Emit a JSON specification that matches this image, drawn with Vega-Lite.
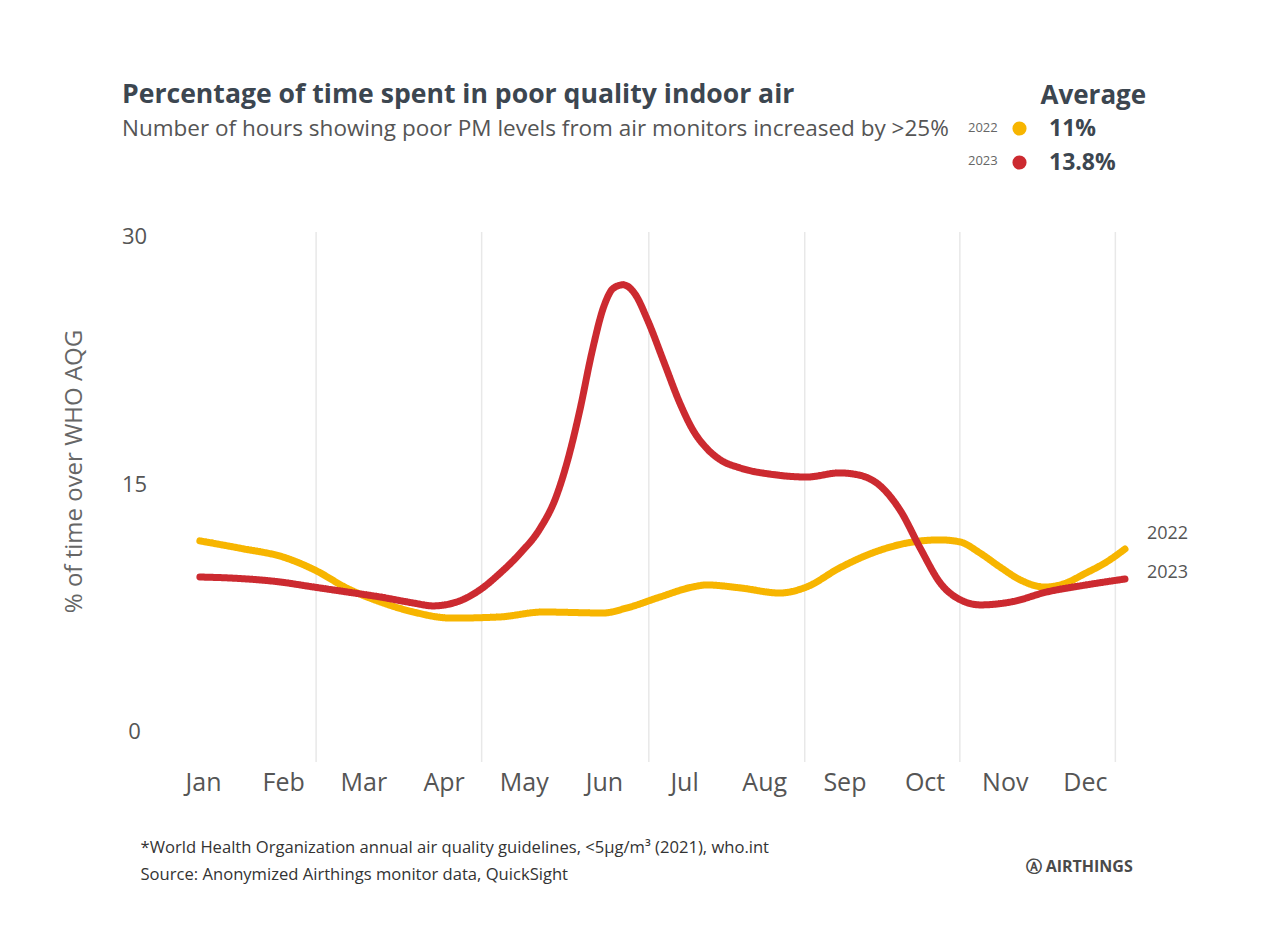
{
  "$schema": "https://vega.github.io/schema/vega-lite/v6.json",
  "width": 962,
  "height": 530,
  "autosize": {"type": "none"},
  "padding": {"left": 171, "top": 232, "right": 139, "bottom": 189},
  "background": "white",
  "config": {
    "font": "Open Sans",
    "view": {"stroke": null},
    "axis": {"labelFont": "Open Sans", "titleFont": "Open Sans"},
    "legend": {"labelFont": "Open Sans", "titleFont": "Open Sans"}
  },
  "title": {
    "text": "Percentage of time spent in poor quality indoor air",
    "subtitle": "Number of hours showing poor PM levels from air monitors increased by >25%",
    "anchor": "start",
    "frame": "group",
    "dx": -49,
    "offset": -58,
    "font": "Open Sans",
    "fontSize": 26.6,
    "fontWeight": "bold",
    "color": "#3c4650",
    "subtitleFont": "Open Sans",
    "subtitleFontSize": 22.5,
    "subtitleColor": "#555555",
    "subtitlePadding": 9
  },
  "datasets": {
    "grid": [
      {"month": 2.41}, {"month": 4.475}, {"month": 6.56}, {"month": 8.505}, {"month": 10.44}, {"month": 12.38}
    ],
    "series": [
      {"year": "2022", "month": 0.96, "value": 11.58},
      {"year": "2022", "month": 1.5, "value": 11.1},
      {"year": "2022", "month": 2.0, "value": 10.6},
      {"year": "2022", "month": 2.4, "value": 9.8},
      {"year": "2022", "month": 2.8, "value": 8.7},
      {"year": "2022", "month": 3.2, "value": 7.9},
      {"year": "2022", "month": 3.6, "value": 7.3},
      {"year": "2022", "month": 4.1, "value": 6.9},
      {"year": "2022", "month": 4.7, "value": 6.97},
      {"year": "2022", "month": 5.24, "value": 7.27},
      {"year": "2022", "month": 5.99, "value": 7.21},
      {"year": "2022", "month": 6.29, "value": 7.52},
      {"year": "2022", "month": 6.7, "value": 8.18},
      {"year": "2022", "month": 7.11, "value": 8.79},
      {"year": "2022", "month": 7.28, "value": 8.91},
      {"year": "2022", "month": 7.7, "value": 8.73},
      {"year": "2022", "month": 8.19, "value": 8.42},
      {"year": "2022", "month": 8.53, "value": 8.79},
      {"year": "2022", "month": 8.94, "value": 9.94},
      {"year": "2022", "month": 9.35, "value": 10.85},
      {"year": "2022", "month": 9.78, "value": 11.45},
      {"year": "2022", "month": 10.19, "value": 11.64},
      {"year": "2022", "month": 10.44, "value": 11.52},
      {"year": "2022", "month": 10.69, "value": 10.85},
      {"year": "2022", "month": 10.94, "value": 10.0},
      {"year": "2022", "month": 11.2, "value": 9.2},
      {"year": "2022", "month": 11.5, "value": 8.78},
      {"year": "2022", "month": 11.75, "value": 9.0},
      {"year": "2022", "month": 12.0, "value": 9.6},
      {"year": "2022", "month": 12.27, "value": 10.3},
      {"year": "2022", "month": 12.5, "value": 11.09},
      {"year": "2023", "month": 0.96, "value": 9.39},
      {"year": "2023", "month": 1.34, "value": 9.33},
      {"year": "2023", "month": 1.96, "value": 9.09},
      {"year": "2023", "month": 2.37, "value": 8.79},
      {"year": "2023", "month": 2.8, "value": 8.48},
      {"year": "2023", "month": 3.21, "value": 8.18},
      {"year": "2023", "month": 3.62, "value": 7.82},
      {"year": "2023", "month": 3.87, "value": 7.64},
      {"year": "2023", "month": 4.2, "value": 7.94},
      {"year": "2023", "month": 4.45, "value": 8.6},
      {"year": "2023", "month": 4.7, "value": 9.6},
      {"year": "2023", "month": 4.95, "value": 10.8},
      {"year": "2023", "month": 5.2, "value": 12.3},
      {"year": "2023", "month": 5.4, "value": 14.2},
      {"year": "2023", "month": 5.55, "value": 16.5},
      {"year": "2023", "month": 5.7, "value": 19.5},
      {"year": "2023", "month": 5.85, "value": 23.0},
      {"year": "2023", "month": 6.0, "value": 25.8},
      {"year": "2023", "month": 6.12, "value": 26.9},
      {"year": "2023", "month": 6.24, "value": 27.1},
      {"year": "2023", "month": 6.38, "value": 26.6},
      {"year": "2023", "month": 6.55, "value": 24.9},
      {"year": "2023", "month": 6.75, "value": 22.4},
      {"year": "2023", "month": 6.95, "value": 19.9},
      {"year": "2023", "month": 7.11, "value": 18.3},
      {"year": "2023", "month": 7.28, "value": 17.2},
      {"year": "2023", "month": 7.45, "value": 16.5},
      {"year": "2023", "month": 7.7, "value": 16.0},
      {"year": "2023", "month": 8.11, "value": 15.6},
      {"year": "2023", "month": 8.53, "value": 15.45},
      {"year": "2023", "month": 8.94, "value": 15.7},
      {"year": "2023", "month": 9.2, "value": 15.55},
      {"year": "2023", "month": 9.45, "value": 14.9},
      {"year": "2023", "month": 9.7, "value": 13.4},
      {"year": "2023", "month": 9.95, "value": 11.1},
      {"year": "2023", "month": 10.2, "value": 9.0},
      {"year": "2023", "month": 10.45, "value": 8.0},
      {"year": "2023", "month": 10.7, "value": 7.7},
      {"year": "2023", "month": 11.1, "value": 7.9},
      {"year": "2023", "month": 11.52, "value": 8.48},
      {"year": "2023", "month": 11.94, "value": 8.85},
      {"year": "2023", "month": 12.5, "value": 9.27}
    ]
  },
  "layer": [
    {
      "data": {"name": "grid"},
      "mark": {"type": "rule", "color": "#e8e8e8", "strokeWidth": 1.5},
      "encoding": {
        "x": {
          "field": "month",
          "type": "quantitative",
          "scale": {"domain": [0.6, 12.6], "nice": false, "zero": false},
          "axis": {
            "orient": "bottom",
            "values": [1, 2, 3, 4, 5, 6, 7, 8, 9, 10, 11, 12],
            "labelExpr": "['Jan','Feb','Mar','Apr','May','Jun','Jul','Aug','Sep','Oct','Nov','Dec'][datum.value - 1]",
            "labelFontSize": 25,
            "labelColor": "#555555",
            "labelPadding": 8,
            "labelFlush": false,
            "labelOverlap": false,
            "domain": false,
            "ticks": false,
            "tickSize": 0,
            "grid": false,
            "title": [
              "*World Health Organization annual air quality guidelines, <5µg/m³ (2021), who.int",
              "Source: Anonymized Airthings monitor data, QuickSight"
            ],
            "titleFontSize": 16.6,
            "titleFontWeight": "normal",
            "titleColor": "#333333",
            "titleAnchor": "start",
            "titleAlign": "left",
            "titleBaseline": "alphabetic",
            "titleX": -31,
            "titleY": 90,
            "titleLineHeight": 27
          }
        }
      }
    },
    {
      "data": {"name": "series"},
      "transform": [{"calculate": "datum.year", "as": "yr"}],
      "mark": {"type": "line", "interpolate": "monotone", "strokeWidth": 7, "strokeCap": "round", "strokeJoin": "round"},
      "encoding": {
        "x": {"field": "month", "type": "quantitative", "axis": null},
        "y": {
          "field": "value",
          "type": "quantitative",
          "scale": {"domain": [-1.82, 30.3], "nice": false, "zero": false},
          "axis": {
            "orient": "left",
            "values": [0, 15, 30],
            "labelFontSize": 22,
            "labelColor": "#555555",
            "labelAlign": "center",
            "labelPadding": 37,
            "domain": false,
            "ticks": false,
            "tickSize": 0,
            "grid": false,
            "title": "% of time over WHO AQG",
            "titleFontSize": 24,
            "titleFontWeight": "normal",
            "titleColor": "#666666",
            "titleAngle": -90,
            "titleAlign": "center",
            "titleBaseline": "bottom",
            "titleX": -85,
            "titleY": 239
          }
        },
        "color": {
          "field": "year",
          "type": "nominal",
          "scale": {"domain": ["2022", "2023"], "range": ["#f7b500", "#cc2a30"]},
          "legend": {
            "orient": "none",
            "legendX": 837,
            "legendY": -115,
            "title": null,
            "labelFontSize": 23,
            "labelFontWeight": "bold",
            "labelColor": "#3c4650",
            "labelOffset": 18,
            "labelExpr": "datum.label == '2022' ? '11%' : '13.8%'",
            "symbolType": "circle",
            "symbolSize": 200,
            "symbolStrokeWidth": 0,
            "rowPadding": 10,
            "padding": 0,
            "encode": {"symbols": {"update": {"fill": {"scale": "color", "field": "value"}, "opacity": {"value": 1}}}}
          }
        },
        "strokeDash": {
          "field": "yr",
          "type": "nominal",
          "scale": {"range": [[1, 0], [1, 0]]},
          "legend": {
            "orient": "none",
            "legendX": 782,
            "legendY": -112,
            "title": null,
            "labelFontSize": 13,
            "labelColor": "#666666",
            "labelOffset": 0,
            "symbolType": "circle",
            "symbolSize": 200,
            "symbolStrokeWidth": 0,
            "symbolOpacity": 0,
            "rowPadding": 18,
            "padding": 0,
            "encode": {"symbols": {"update": {"opacity": {"value": 0}}}}
          }
        }
      }
    },
    {
      "data": {"name": "series"},
      "transform": [{"filter": "datum.year == '2022' && datum.month == 12.5"}],
      "mark": {"type": "text", "align": "left", "baseline": "middle", "dx": 22, "dy": -15, "fontSize": 18, "color": "#555555", "font": "Open Sans"},
      "encoding": {
        "x": {
          "field": "month",
          "type": "quantitative",
          "axis": {
            "orient": "top",
            "labels": false,
            "domain": false,
            "ticks": false,
            "grid": false,
            "title": "Average",
            "titleAngle": 0,
            "titleAlign": "left",
            "titleBaseline": "middle",
            "titleFontSize": 26,
            "titleFontWeight": "bold",
            "titleColor": "#3c4650",
            "titleX": 869,
            "titleY": -137
          }
        },
        "y": {
          "field": "value",
          "type": "quantitative",
          "axis": {
            "orient": "right",
            "labels": false,
            "domain": false,
            "ticks": false,
            "grid": false,
            "title": "Ⓐ AIRTHINGS",
            "titleAngle": 0,
            "titleAlign": "left",
            "titleBaseline": "middle",
            "titleFontSize": 16,
            "titleFontWeight": "bold",
            "titleColor": "#4a4a4a",
            "titleX": -108,
            "titleY": 634
          }
        },
        "text": {"field": "year"}
      }
    },
    {
      "data": {"name": "series"},
      "transform": [{"filter": "datum.year == '2023' && datum.month == 12.5"}],
      "mark": {"type": "text", "align": "left", "baseline": "middle", "dx": 22, "dy": -6, "fontSize": 18, "color": "#555555", "font": "Open Sans"},
      "encoding": {
        "x": {"field": "month", "type": "quantitative", "axis": null},
        "y": {"field": "value", "type": "quantitative", "axis": null},
        "text": {"field": "year"}
      }
    }
  ],
  "resolve": {"axis": {"x": "independent", "y": "independent"}}
}
